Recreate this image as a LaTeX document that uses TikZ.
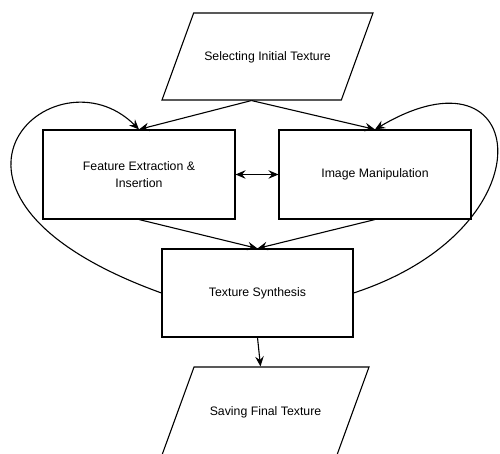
\documentclass[tikz,border=0pt]{standalone}
\usepackage{fontspec}
\setmainfont{Liberation Sans}
\usepackage{tikz}
\usetikzlibrary{shapes.geometric, arrows.meta, positioning}

\begin{document}
\begin{tikzpicture}[x=1pt, y=1pt, font=\fontsize{12.3}{17.5}\selectfont]
\tikzstyle{process} = [rectangle, minimum width=192pt, minimum height=89pt, text centered, align=center, draw=black, line width=1.1pt]
\tikzstyle{io} = [trapezium, trapezium left angle=70, trapezium right angle=110, trapezium stretches body=true, minimum width=211pt, inner ysep=0pt, text height=47.8pt, text depth=39.2pt, text centered, draw=black, line width=1.1pt]
\tikzstyle{arrow} = [line width=1.1pt, ->, >={Stealth[length=10pt, width=8.5pt, inset=3.5pt]}]

\useasboundingbox (0,0) rectangle (500,454);

% Input
\node (init) [io] at (267.5,397.5) {Selecting Initial Texture};

% Processing
\node (feat) [process] at (139,279.5) {Feature Extraction \&\\Insertion};
\node (manip) [process] at (375,279.5) {Image Manipulation};
\node (synth) [process, minimum width=191pt, minimum height=88pt] at (257.5,161) {Texture Synthesis};

% Output
\node (save) [io, minimum width=207pt, text height=48.3pt, text depth=39.7pt] at (265.5,43) {Saving Final Texture};

% Connections
\draw [arrow] (init.bottom side) -- (feat.north);
\draw [arrow] (init.bottom side) -- (manip.north);
\draw [arrow, <->] (feat.east) -- (manip.west);
\draw [arrow] (feat.south) -- (synth.north);
\draw [arrow] (manip.south) -- (synth.north);
\draw [arrow] (synth.south) -- ([xshift=-5pt]save.north);

% Feedback loops
\draw [arrow] (synth.west) .. controls +(-272.6,98.6) and +(-85,85) .. (feat.north);
\draw [arrow] (synth.east) .. controls +(199.5,65.1) and +(154.8,91.8) .. (manip.north);

\end{tikzpicture}
\end{document}
